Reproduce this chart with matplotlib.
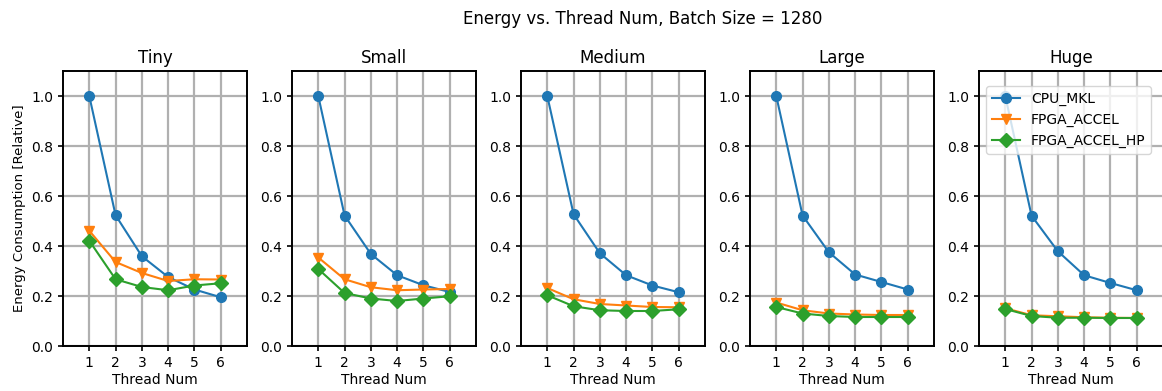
import matplotlib
matplotlib.use("Agg")
import matplotlib.pyplot as plt

threads = [1, 2, 3, 4, 5, 6]
sizes = ["Tiny", "Small", "Medium", "Large", "Huge"]
series_names = ["CPU_MKL", "FPGA_ACCEL", "FPGA_ACCEL_HP"]

cpu_mkl = {
    "Tiny":   [1.0, 0.523, 0.359, 0.276, 0.226, 0.195],
    "Small":  [1.0, 0.522, 0.368, 0.283, 0.243, 0.216],
    "Medium": [1.0, 0.527, 0.371, 0.283, 0.242, 0.215],
    "Large":  [1.0, 0.522, 0.375, 0.286, 0.256, 0.226],
    "Huge":   [1.0, 0.521, 0.379, 0.283, 0.252, 0.223],
}
fpga_accel = {
    "Tiny":   [0.461, 0.336, 0.292, 0.260, 0.267, 0.266],
    "Small":  [0.354, 0.267, 0.235, 0.223, 0.226, 0.228],
    "Medium": [0.232, 0.187, 0.168, 0.162, 0.156, 0.155],
    "Large":  [0.174, 0.143, 0.130, 0.126, 0.124, 0.124],
    "Huge":   [0.151, 0.123, 0.119, 0.115, 0.113, 0.112],
}
fpga_accel_hp = {
    "Tiny":   [0.421, 0.267, 0.236, 0.223, 0.242, 0.251],
    "Small":  [0.308, 0.212, 0.190, 0.180, 0.190, 0.199],
    "Medium": [0.203, 0.159, 0.143, 0.140, 0.140, 0.147],
    "Large":  [0.156, 0.130, 0.120, 0.116, 0.116, 0.116],
    "Huge":   [0.148, 0.120, 0.113, 0.113, 0.112, 0.112],
}

markers = ["o", "v", "D"]

fig = plt.figure(figsize=(11.62, 3.91), dpi=100)
fig.suptitle("Energy vs. Thread Num, Batch Size = 1280", x=0.553, y=0.975, fontsize=12)

W, H = 1162.0, 391.0
lefts = [63, 292, 521, 750, 979]
ax_w, bottom, top = 184, 346, 71

for i, name in enumerate(sizes):
    ax = fig.add_axes([lefts[i] / W, 1 - bottom / H, ax_w / W, (bottom - top) / H])
    for data, label, m in zip([cpu_mkl, fpga_accel, fpga_accel_hp], series_names, markers):
        ax.plot(threads, data[name], marker=m, label=label, linewidth=1.5, markersize=7)
    ax.set_xlim(0, 7)
    ax.set_ylim(0, 1.1)
    ax.set_xticks(threads)
    ax.set_yticks([0.0, 0.2, 0.4, 0.6, 0.8, 1.0])
    ax.grid(True, color="#b0b0b0", linewidth=1.6)
    ax.set_axisbelow(True)
    for sp in ax.spines.values():
        sp.set_linewidth(1.4)
    ax.tick_params(width=1.2)
    ax.set_title(name)
    ax.set_xlabel("Thread Num", labelpad=2)
    if i == 0:
        ax.set_ylabel("Energy Consumption [Relative]", fontsize=9.5)
    if i == len(sizes) - 1:
        ax.legend(loc="upper right", bbox_to_anchor=(0.935, 0.945), fontsize=10,
                  borderaxespad=0)

fig.savefig("out.png", dpi=100)
